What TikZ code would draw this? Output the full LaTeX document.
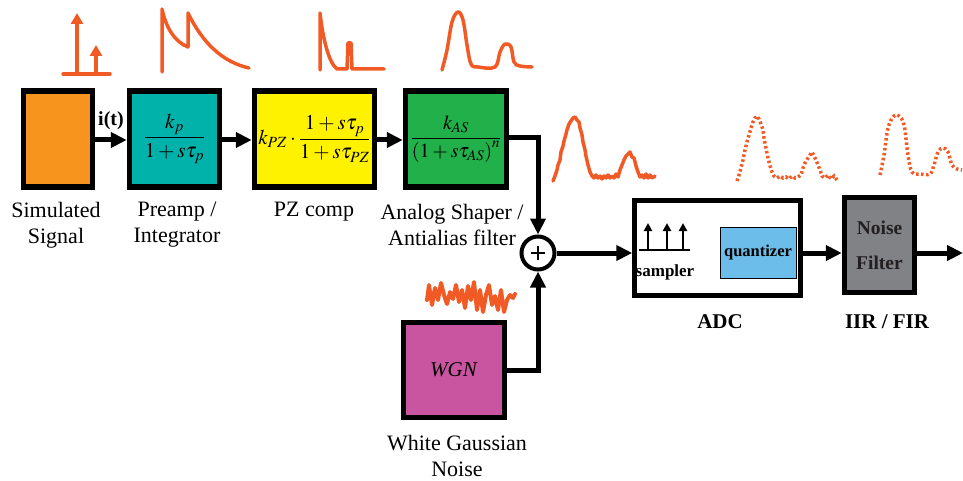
\documentclass[tikz,border=0pt]{standalone}
\usepackage{fix-cm}
\usepackage{amsmath}
\usepackage{mathptmx}
\usepackage{fontspec}
\setmainfont{Liberation Serif}
\usetikzlibrary{arrows.meta}
\definecolor{cSim}{HTML}{F7941D}
\definecolor{cPre}{HTML}{00B2A9}
\definecolor{cPZ}{HTML}{FFF200}
\definecolor{cAS}{HTML}{22B04B}
\definecolor{cWGN}{HTML}{C955A0}
\definecolor{cNF}{HTML}{808285}
\definecolor{cQ}{HTML}{6CBDE9}
\definecolor{cWave}{HTML}{F15A24}
\definecolor{cTxt}{HTML}{231F20}
\tikzset{
  blk/.style={draw=black, line width=5.5pt, minimum height=96pt, inner sep=0pt, font=\fontsize{21}{25}\selectfont},
  conn/.style={draw=black, line width=5pt, -{Triangle[length=16pt,width=15pt]}},
  lbl/.style={align=center, font=\fontsize{22}{26}\selectfont, inner sep=0pt},
  blbl/.style={align=center, font=\fontsize{21}{26}\selectfont\bfseries, inner sep=0pt},
  wv/.style={draw=cWave, line width=3.5pt, line join=round, line cap=round},
  wvdot/.style={draw=cWave, line width=3.5pt, dash pattern=on 2.5pt off 2.5pt},
  imp/.style={draw=cWave, line width=3.5pt, -{Triangle[length=11pt,width=12pt]}},
  smp/.style={draw=black, line width=2.5pt, -{Triangle[length=8pt,width=8pt]}}
}
\begin{document}
\begin{tikzpicture}[x=1pt,y=-1pt]
\useasboundingbox (0,0) rectangle (963,481);
% blocks
\node[blk, fill=cSim, minimum width=69pt] (sim) at (58,139) {};
\node[blk, fill=cPre, minimum width=90pt] (pre) at (174.5,139) {$\dfrac{k_p}{1+s\tau_p}$};
\node[blk, fill=cPZ, minimum width=120pt] (pz) at (314.5,139) {$k_{PZ}\cdot\dfrac{1+s\tau_p}{1+s\tau_{PZ}}$};
\node[blk, fill=cAS, minimum width=101pt, font=\fontsize{20}{24}\selectfont] (as) at (456,139) {$\dfrac{k_{AS}}{\left(1+s\tau_{AS}\right)^{n}}$};
\node[blk, fill=cWGN, minimum width=101pt, minimum height=95pt] (wgn) at (454,370) {\textit{WGN}};
\node[draw=black, line width=4pt, circle, minimum size=33pt, inner sep=0pt] (sum) at (538,253) {};
\draw[line width=1.3pt] ([xshift=-7pt]sum.center) -- ([xshift=7pt]sum.center) ([yshift=-7pt]sum.center) -- ([yshift=7pt]sum.center);
\node[draw=black, line width=4.5pt, fill=white, minimum width=166pt, minimum height=95pt] (adc) at (717.5,248) {};
\node[draw=black, line width=1pt, fill=cQ, minimum width=76pt, minimum height=51pt, inner sep=0pt, font=\fontsize{16.5}{20}\selectfont\bfseries] (q) at (758,252.5) {quantizer};
\node[blk, fill=cNF, minimum width=70pt, minimum height=95pt, font=\fontsize{19.5}{35}\selectfont\bfseries, text=cTxt, align=center] (nf) at (879.5,245) {Noise\\Filter};
% sampler
\coordinate (sb1) at (639,250);
\coordinate (sb2) at (690,250);
\draw[black, line width=2.5pt] (sb1) -- (sb2);
\coordinate (s1) at (648,250); \coordinate (t1) at (648,223);
\coordinate (s2) at (667,250); \coordinate (t2) at (667,223);
\coordinate (s3) at (683,250); \coordinate (t3) at (683,223);
\draw[smp] (s1) -- (t1);
\draw[smp] (s2) -- (t2);
\draw[smp] (s3) -- (t3);
\node[font=\fontsize{17}{20}\selectfont\bfseries, inner sep=0pt] (smplbl) at (665,272) {sampler};
% connectors
\draw[conn] (sim.east |- 0,140) -- (pre.west |- 0,140);
\node[font=\fontsize{20}{24}\selectfont\bfseries, inner sep=0pt] (it) at (111,121) {i(t)};
\draw[conn] (pre.east |- 0,140) -- (pz.west |- 0,140);
\draw[conn] (pz.east |- 0,140) -- (as.west |- 0,140);
\draw[conn] (as.east |- 0,138) -| (sum.north);
\draw[conn] (wgn.east) -| (sum.south);
\draw[conn] (sum.east) -- (adc.west |- sum.east);
\draw[conn] (adc.east |- sum.east) -- (nf.west |- sum.east);
\coordinate (out) at (963,253);
\draw[conn] (nf.east |- sum.east) -- (out);
% labels
\node[lbl] (lsim) at (56,225) {Simulated\\Signal};
\node[lbl] (lpre) at (177,225) {Preamp /\\Integrator};
\node[lbl] (lpz) at (314,212) {PZ comp};
\node[lbl] (las) at (452,225) {Analog Shaper /\\Antialias filter};
\node[lbl] (lwgn) at (457,456) {White Gaussian\\Noise};
\node[blbl] (ladc) at (720,322) {ADC};
\node[blbl] (lnf) at (887,322) {IIR / FIR};
% waveforms
\draw[wv] (63,74) -- (110,74);
\draw[imp] (77,74) -- (77,13);
\draw[imp] (96,74) -- (96,45);
\draw[wv] (162,72) -- (162,9) .. controls (166,28) and (175,42) .. (188,47) -- (188,13) .. controls (202,42) and (222,62) .. (249,68);
\draw[wv] (320,70) -- (320,13) .. controls (323,40) and (329,63) .. (337,69) -- (347,69) -- (348,43) -- (351,43) -- (352,69) -- (384,69);
\draw[wv] plot[smooth, tension=0.6] coordinates {(442,70) (447,50) (452,22) (458,12) (463,20) (467,45) (471,64) (478,67) (495,67) (500,52) (505,44) (511,47) (514,62) (520,66) (532,67)};
\draw[wv] plot coordinates {(553,181) (555,176) (557,170) (558,165) (560,160) (561,152) (563,146) (564,141) (566,134) (567,130) (569,124) (571,121) (573,118) (575,117) (577,120) (579,122) (580,128) (582,135) (583,142) (585,150) (586,156) (588,165) (590,172) (592,176) (594,178) (596,175) (598,178) (600,176) (602,179) (604,176) (606,178) (608,175) (610,178) (612,176) (614,178) (616,174) (618,177) (620,170) (622,165) (624,160) (626,156) (628,154) (630,152) (632,157) (634,158) (636,166) (638,172) (640,177) (642,175) (644,178) (646,174) (648,178) (650,175) (652,178) (655,176)};
\draw[wvdot] plot coordinates {(737,181) (739,175) (741,168) (743,160) (745,150) (747,142) (749,135) (751,128) (753,122) (755,118) (757,116) (759,119) (761,124) (763,130) (764,138) (766,148) (768,158) (770,166) (772,172) (774,176) (777,178) (780,176) (783,178) (786,177) (789,179) (792,176) (795,178) (798,177) (801,175) (803,168) (805,163) (808,158) (810,155) (812,152) (814,156) (816,160) (818,165) (820,170) (822,176) (825,178) (828,175) (831,179) (834,176) (837,180)};
\draw[wvdot] plot[smooth, tension=0.6] coordinates {(880,175) (884,155) (888,128) (894,116) (899,116) (904,125) (908,155) (912,172) (920,174) (930,174) (934,165) (938,152) (943,148) (948,152) (952,165) (957,169) (962,170)};
\draw[wv, line width=4pt] plot coordinates {(427,300) (429,285) (432,305) (435,288) (438,300) (441,283) (444,295) (447,304) (450,292) (453,299) (456,285) (459,302) (462,290) (465,308) (468,286) (471,300) (474,282) (477,310) (480,290) (483,312) (486,295) (489,285) (492,305) (495,296) (498,310) (501,290) (504,312) (507,300) (510,295) (513,298) (515,294)};
\end{tikzpicture}
\end{document}
